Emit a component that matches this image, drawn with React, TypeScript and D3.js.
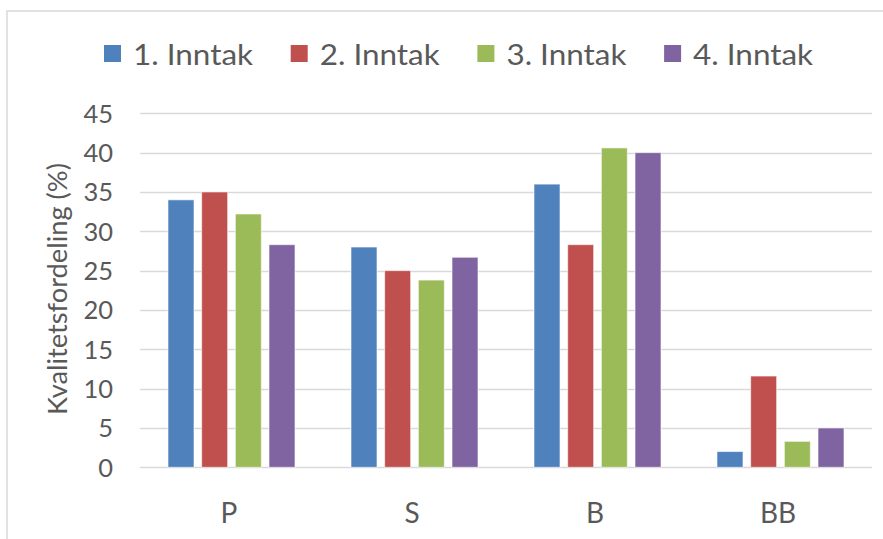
import React from "react";
import * as d3 from "d3";

const categories = ["P", "S", "B", "BB"];
const seriesNames = ["1. Inntak", "2. Inntak", "3. Inntak", "4. Inntak"];
const inntak1 = [34.0, 28.0, 36.0, 2.0];
const inntak2 = [35.0, 25.0, 28.3, 11.6];
const inntak3 = [32.2, 23.8, 40.6, 3.3];
const inntak4 = [28.3, 26.7, 40.0, 5.0];
const yTicks = [0, 5, 10, 15, 20, 25, 30, 35, 40, 45];
const colors = ["#4f81bd", "#c0504d", "#9bbb59", "#8064a2"];
const yTitle = "Kvalitetsfordeling (%)";

const seriesValues = [inntak1, inntak2, inntak3, inntak4];

const W = 883;
const H = 539;
const FONT = "Lato, 'Open Sans', sans-serif";
const TEXT = "#595959";

export default function App() {
  const plotLeft = 140;
  const plotRight = 872;
  const y = d3.scaleLinear().domain([0, 45]).range([467.3, 113.3]);
  const x = d3
    .scaleBand<string>()
    .domain(categories)
    .range([plotLeft, plotRight])
    .paddingInner(0.306)
    .paddingOuter(0.153);
  const xi = d3
    .scaleBand<string>()
    .domain(seriesNames)
    .range([0, x.bandwidth()])
    .paddingInner(0.228)
    .paddingOuter(0);

  const legendStep = 186.7;
  const legendX0 = 104;

  return (
    <svg
      width={W}
      height={H}
      style={{ position: "absolute", left: 0, top: 0, background: "#fff" }}
      fontFamily={FONT}
    >
      <rect x={0} y={0} width={W} height={H} fill="#fff" />
      {/* chart border */}
      <rect x={7} y={11} width={W + 20} height={H + 20} fill="none" stroke="#d9d9d9" strokeWidth={1.5} />

      {/* gridlines */}
      {yTicks.map((t) => (
        <line
          key={"g" + t}
          x1={plotLeft}
          x2={plotRight}
          y1={Math.round(y(t)) + 0.5}
          y2={Math.round(y(t)) + 0.5}
          stroke="#d9d9d9"
          strokeWidth={1.5}
        />
      ))}

      {/* y tick labels */}
      {yTicks.map((t) => (
        <text
          key={"t" + t}
          x={113}
          y={y(t) + 9.3}
          textAnchor="end"
          fontSize={25.5}
          fill={TEXT}
        >
          {t}
        </text>
      ))}

      {/* y axis title */}
      <text
        transform={`translate(67,289) rotate(-90)`}
        textAnchor="middle"
        fontSize={26.5}
        fill={TEXT}
        textLength={252}
        lengthAdjust="spacingAndGlyphs"
      >
        {yTitle}
      </text>

      {/* bars */}
      {seriesValues.map((vals, si) =>
        vals.map((v, ci) => (
          <rect
            key={`b${si}-${ci}`}
            x={(x(categories[ci]) as number) + (xi(seriesNames[si]) as number)}
            y={y(v)}
            width={xi.bandwidth()}
            height={y(0) - y(v)}
            fill={colors[si]}
            stroke="#ffffff"
            strokeOpacity={0.6}
            strokeWidth={1}
          />
        ))
      )}

      {/* category labels */}
      {categories.map((c) => (
        <text
          key={"c" + c}
          x={(x(c) as number) + x.bandwidth() / 2 - 2.5}
          y={523}
          textAnchor="middle"
          fontSize={28}
          fill={TEXT}
        >
          {c}
        </text>
      ))}

      {/* legend */}
      {seriesNames.map((s, i) => (
        <g key={"l" + s} transform={`translate(${legendX0 + i * legendStep},0)`}>
          <rect x={0} y={45} width={17} height={17} fill={colors[i]} />
          <text
            x={29}
            y={64.5}
            fontSize={29.5}
            fill={TEXT}
            textLength={120}
            lengthAdjust="spacingAndGlyphs"
          >
            {s}
          </text>
        </g>
      ))}
    </svg>
  );
}
